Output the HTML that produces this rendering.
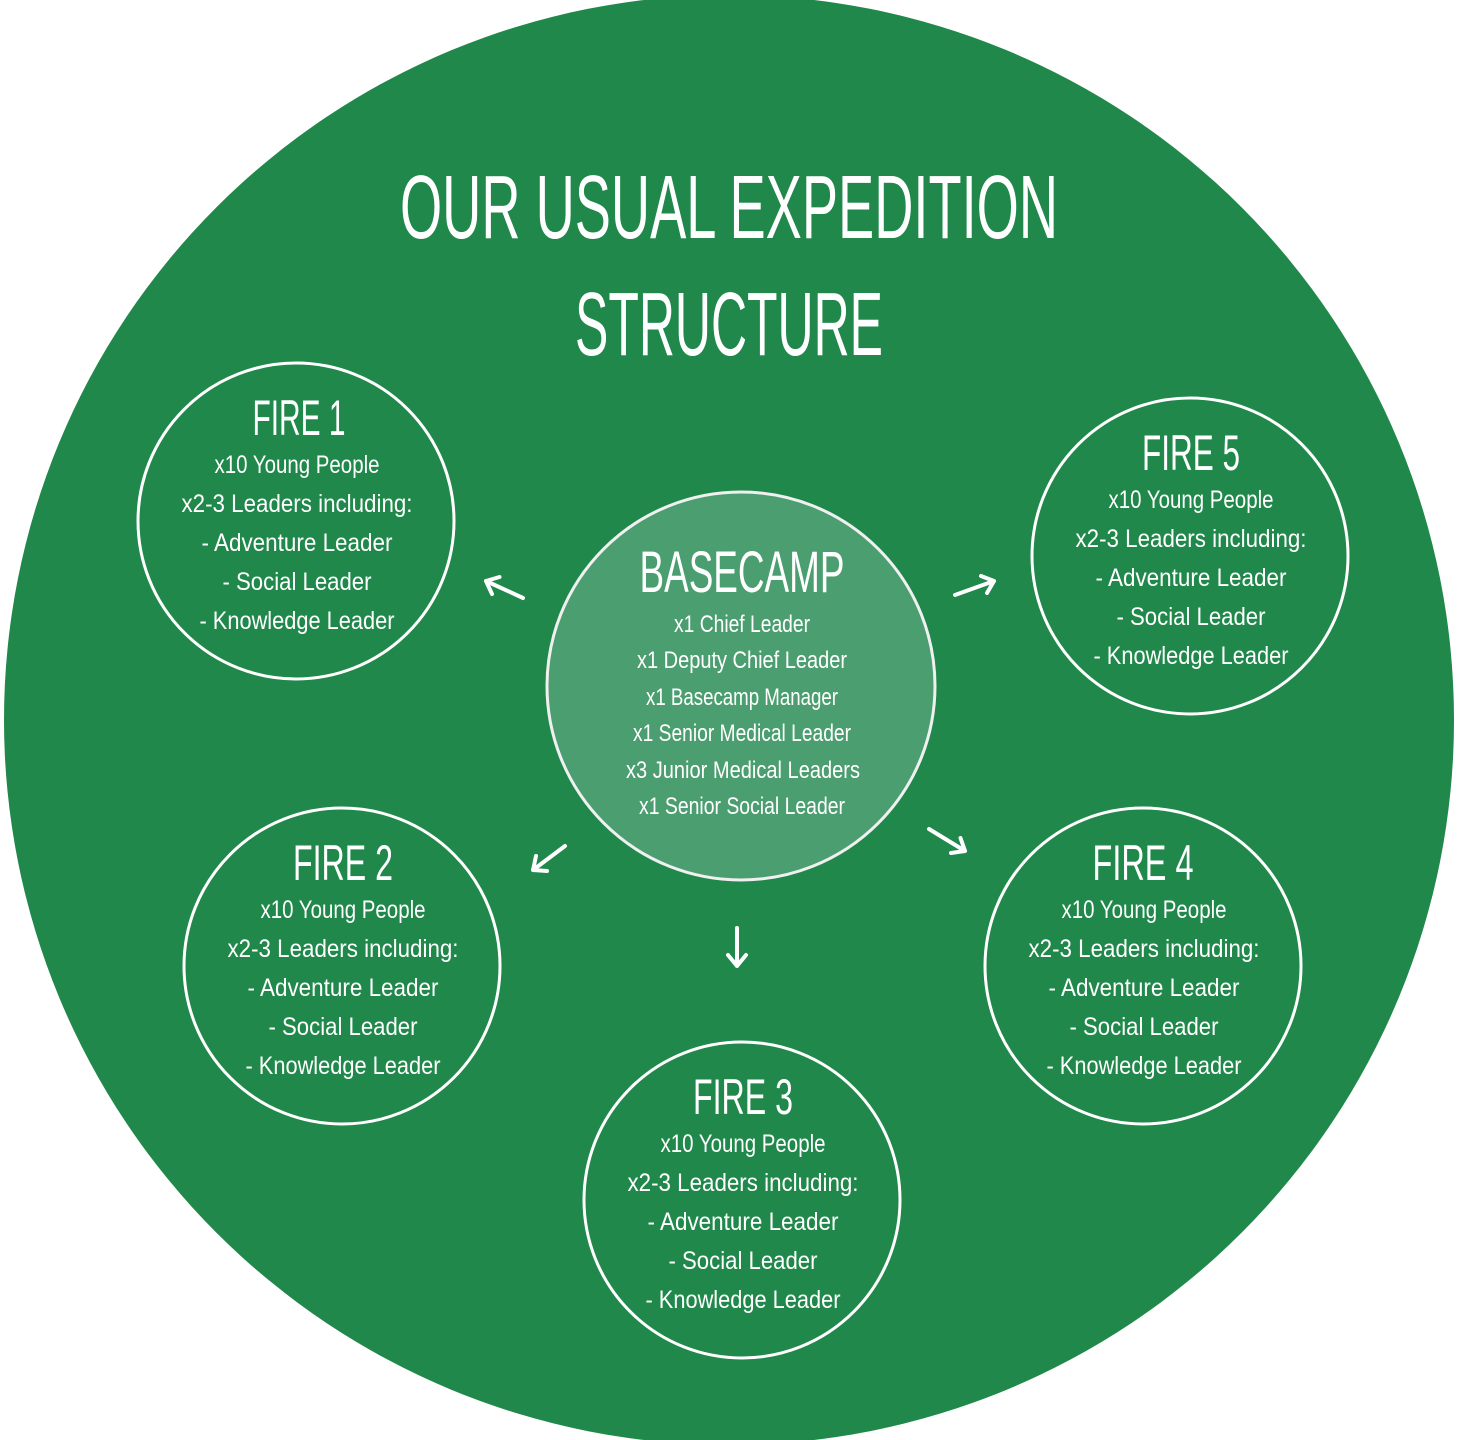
<!DOCTYPE html>
<html><head><meta charset="utf-8"><style>
html,body{margin:0;padding:0;background:#fff}
svg{display:block}
text{font-family:"Liberation Sans Narrow","Liberation Sans",sans-serif;fill:#fff;text-anchor:middle}
</style></head><body>
<svg width="1458" height="1440" viewBox="0 0 1458 1440" xmlns="http://www.w3.org/2000/svg">
<defs>
<g id="lines">
<text x="1" y="-48" font-size="25" textLength="165" lengthAdjust="spacingAndGlyphs">x10 Young People</text>
<text x="1" y="-9" font-size="25" textLength="231" lengthAdjust="spacingAndGlyphs">x2-3 Leaders including:</text>
<text x="1" y="30" font-size="25" textLength="191" lengthAdjust="spacingAndGlyphs">-  Adventure Leader</text>
<text x="1" y="69" font-size="25" textLength="149" lengthAdjust="spacingAndGlyphs">-  Social Leader</text>
<text x="1" y="108" font-size="25" textLength="195" lengthAdjust="spacingAndGlyphs">-  Knowledge Leader</text>
<circle cx="0" cy="0" r="158" fill="none" stroke="#fff" stroke-width="3"/>
</g>
</defs>
<circle cx="729" cy="720" r="725" fill="#1f884a"/>
<text x="729" y="238" font-size="90" textLength="658" lengthAdjust="spacingAndGlyphs">OUR USUAL EXPEDITION</text>
<text x="729" y="355" font-size="90" textLength="308" lengthAdjust="spacingAndGlyphs">STRUCTURE</text>

<circle cx="741" cy="686" r="194" fill="#4b9e6f" stroke="#f0f0f0" stroke-width="3"/>
<text x="742" y="592" font-size="58" textLength="205" lengthAdjust="spacingAndGlyphs">BASECAMP</text>
<text x="742" y="632" font-size="24" textLength="136" lengthAdjust="spacingAndGlyphs">x1 Chief Leader</text>
<text x="742" y="668" font-size="24" textLength="210" lengthAdjust="spacingAndGlyphs">x1 Deputy Chief Leader</text>
<text x="742" y="705" font-size="24" textLength="192" lengthAdjust="spacingAndGlyphs">x1 Basecamp Manager</text>
<text x="742" y="741" font-size="24" textLength="218" lengthAdjust="spacingAndGlyphs">x1 Senior Medical Leader</text>
<text x="743" y="778" font-size="24" textLength="234" lengthAdjust="spacingAndGlyphs">x3 Junior Medical Leaders</text>
<text x="742" y="814" font-size="24" textLength="206" lengthAdjust="spacingAndGlyphs">x1 Senior Social Leader</text>

<g transform="translate(296,521)"><use href="#lines"/><text x="3" y="-86" font-size="50" textLength="93" lengthAdjust="spacingAndGlyphs">FIRE 1</text></g>
<g transform="translate(1190,556)"><use href="#lines"/><text x="1" y="-86" font-size="50" textLength="98" lengthAdjust="spacingAndGlyphs">FIRE 5</text></g>
<g transform="translate(342,966)"><use href="#lines"/><text x="1" y="-86" font-size="50" textLength="100" lengthAdjust="spacingAndGlyphs">FIRE 2</text></g>
<g transform="translate(1143,966)"><use href="#lines"/><text x="0" y="-86" font-size="50" textLength="101" lengthAdjust="spacingAndGlyphs">FIRE 4</text></g>
<g transform="translate(742,1200)"><use href="#lines"/><text x="1" y="-86" font-size="50" textLength="100" lengthAdjust="spacingAndGlyphs">FIRE 3</text></g>

<g fill="none" stroke="#fff" stroke-width="4" stroke-linecap="round" stroke-linejoin="round">
<path d="M523 598 L486 581 M492 594 L486 581 L499.5 577"/>
<path d="M955 595 L994 581 M981 576 L994 581 L987 593"/>
<path d="M565 846 L533 870 M547 871 L533 870 L536 856"/>
<path d="M929 829 L965 851 M960.5 838 L965 851 L951 853"/>
<path d="M737 928 L737 966 M746 955 L737 966 L728 955"/>
</g>
</svg>
</body></html>
